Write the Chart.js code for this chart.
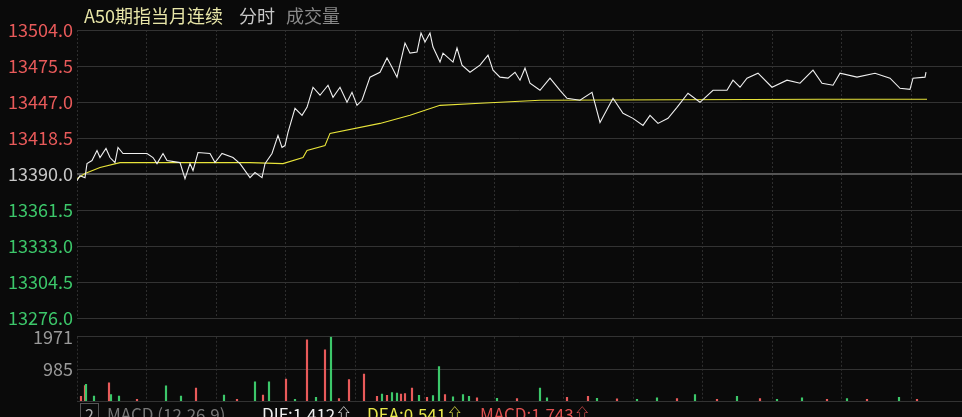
<!DOCTYPE html>
<html><head><meta charset="utf-8">
<script src="https://cdn.jsdelivr.net/npm/chart.js@4"></script>
<style>
html,body{margin:0;padding:0;background:#0a0a0a;width:962px;height:417px;overflow:hidden;font-family:"Noto Sans CJK SC","Noto Sans",sans-serif}
#c1{position:absolute;left:0;top:0}
#c2{position:absolute;left:0;top:322px}
.t{position:absolute;white-space:nowrap}
</style></head><body>
<canvas id="c1" width="962" height="333"></canvas>
<canvas id="c2" width="962" height="94"></canvas>
<div class="t" style="left:84px;top:2px;font-size:18px;color:#e8e6a8">A50期指当月连续</div>
<div class="t" style="left:239px;top:2px;font-size:18px;color:#c8c8c8">分时</div>
<div class="t" style="left:286px;top:2px;font-size:18px;color:#8a8a8a">成交量</div>
<div class="t" style="left:80px;top:403px;width:17px;height:20px;border:1px solid #555;color:#aaa;font-size:16px;text-align:center;line-height:20px">2</div>
<div class="t" style="left:107px;top:401px;font-size:17px;color:#777">MACD (12,26,9)</div>
<div class="t" style="left:262px;top:401px;font-size:17px;color:#eee">DIF:1.412⇧</div>
<div class="t" style="left:367px;top:401px;font-size:17px;color:#e8e84a">DEA:0.541⇧</div>
<div class="t" style="left:480px;top:401px;font-size:17px;color:#e05050">MACD:1.743⇧</div>
<script>
const priceTicks=[13276.0,13304.5,13333.0,13361.5,13390.0,13418.5,13447.0,13475.5,13504.0];
const prevClose=13390.0;
const pricePoints=[[0,13384.8],[3,13388.8],[8,13387.2],[10,13398.3],[15,13400.7],[20,13408.7],[23,13403.1],[29,13410.3],[33,13403.1],[38,13399.1],[41,13411.1],[46,13406.3],[56,13406.3],[70,13406.3],[76,13403.1],[80,13398.3],[86,13406.3],[90,13400.7],[103,13399.1],[108,13386.4],[113,13398.3],[116,13392.8],[121,13407.1],[133,13406.3],[138,13399.1],[145,13406.3],[156,13403.1],[163,13398.3],[173,13387.2],[178,13391.2],[185,13387.2],[188,13398.3],[195,13406.3],[201,13420.6],[205,13411.1],[208,13412.6],[211,13423.0],[218,13442.0],[225,13436.5],[230,13442.8],[236,13458.7],[243,13452.4],[251,13460.3],[256,13450.8],[263,13458.7],[270,13446.8],[275,13454.7],[280,13444.4],[285,13448.4],[293,13466.7],[303,13470.6],[310,13481.8],[315,13474.6],[320,13466.7],[328,13493.7],[333,13485.7],[340,13486.5],[344,13501.6],[348,13494.5],[353,13501.6],[356,13490.5],[363,13478.6],[366,13485.7],[376,13478.6],[380,13489.7],[385,13476.2],[393,13470.6],[403,13476.2],[411,13484.1],[416,13472.2],[423,13466.7],[431,13465.9],[438,13470.6],[443,13464.3],[448,13473.8],[453,13461.9],[463,13456.3],[473,13465.9],[483,13456.3],[490,13450.0],[503,13448.4],[515,13454.7],[523,13430.9],[536,13450.0],[546,13438.1],[556,13434.1],[566,13428.5],[573,13436.5],[581,13430.1],[591,13434.1],[600,13442.8],[611,13454.0],[623,13446.8],[636,13456.3],[650,13456.3],[656,13464.3],[663,13458.7],[670,13465.9],[681,13469.8],[695,13458.7],[710,13464.3],[723,13461.9],[736,13472.2],[745,13461.9],[756,13460.3],[763,13469.8],[780,13466.7],[798,13469.8],[813,13465.9],[823,13457.9],[833,13457.1],[836,13465.9],[848,13466.7],[849,13470.6]];
const avgPoints=[[0,13386.4],[8,13390.4],[23,13395.2],[43,13399.1],[173,13399.1],[206,13398.3],[226,13403.1],[230,13408.7],[248,13412.6],[253,13422.2],[303,13430.1],[333,13436.5],[363,13444.4],[403,13446.0],[463,13448.4],[743,13449.2],[850,13449.2]];
const volTicks=[0,985,1971];
const volPoints=[[4,150,1],[8,480,1],[9,520,0],[17,160,0],[32,560,1],[34,200,0],[42,160,0],[60,60,1],[89,470,0],[104,160,0],[119,400,1],[147,190,0],[160,60,1],[178,590,0],[186,190,1],[192,590,0],[209,680,1],[218,60,0],[230,1880,1],[239,120,0],[248,1570,1],[254,1971,0],[262,80,1],[272,660,1],[287,830,1],[300,150,1],[305,220,0],[310,180,1],[315,260,0],[320,250,0],[324,220,1],[328,230,1],[335,400,1],[342,180,0],[350,120,1],[356,170,0],[362,1060,0],[368,200,1],[376,130,0],[386,200,0],[392,150,0],[400,100,1],[420,90,0],[440,80,1],[463,400,0],[470,100,0],[490,120,1],[511,150,1],[520,90,0],[540,70,1],[560,60,0],[580,100,0],[600,80,1],[618,200,0],[640,60,1],[660,150,0],[683,80,1],[700,60,0],[725,100,0],[750,60,1],[770,80,0],[790,60,1],[822,120,0],[840,60,1]];

const font={family:'"Noto Sans CJK SC","Noto Sans",sans-serif',size:18};
const xScale={type:'linear',min:0,max:885,ticks:{display:false,stepSize:69.5},grid:{color:'#2e2e2e',tickLength:0,lineWidth:1},border:{display:false,dash:[2,2]}};
function fixW(s){s.width=77;}
new Chart(document.getElementById('c1'),{
 type:'line',
 data:{datasets:[
  {data:pricePoints.map(p=>({x:p[0],y:p[1]})),borderColor:'#f0f0f0',borderWidth:1.1,pointRadius:0,tension:0},
  {data:avgPoints.map(p=>({x:p[0],y:p[1]})),borderColor:'#e8e43a',borderWidth:1.1,pointRadius:0,tension:0}
 ]},
 options:{responsive:false,animation:false,layout:{padding:{top:30,bottom:5,right:0,left:0}},
  plugins:{legend:{display:false},tooltip:{enabled:false}},
  scales:{
   x:{...xScale,grid:{...xScale.grid},border:{display:false,dash:[2,2]}},
   y:{min:13276,max:13504,afterFit:fixW,afterBuildTicks:s=>{s.ticks=priceTicks.map(v=>({value:v}));},
    ticks:{font:font,padding:4,callback:v=>v.toFixed(1),color:c=>{const v=c.tick.value;return v>prevClose?'#e85a5a':(v<prevClose?'#3cc76a':'#c8c8c8');}},
    grid:{color:c=>c.tick.value===prevClose?'#555':'#333',lineWidth:c=>c.tick.value===prevClose?2:1,tickLength:0},border:{display:false}}
  }}
});
new Chart(document.getElementById('c2'),{
 type:'bar',
 data:{datasets:[{data:volPoints.map(p=>({x:p[0],y:p[1]})),backgroundColor:volPoints.map(p=>p[2]?'#e85a5a':'#3cc76a'),barThickness:1.5}]},
 options:{responsive:false,animation:false,layout:{padding:{top:12,bottom:4}},
  plugins:{legend:{display:false},tooltip:{enabled:false}},
  scales:{
   x:{...xScale,offset:false,grid:{...xScale.grid,offset:false},border:{display:false,dash:[2,2]}},
   y:{min:0,max:1971,afterFit:fixW,afterBuildTicks:s=>{s.ticks=volTicks.map(v=>({value:v}));},
    ticks:{font:font,padding:4,color:'#9a9a9a',callback:v=>v===0?'':String(v)},
    grid:{color:'#333',tickLength:0},border:{display:false}}
  }}
});
</script></body></html>
